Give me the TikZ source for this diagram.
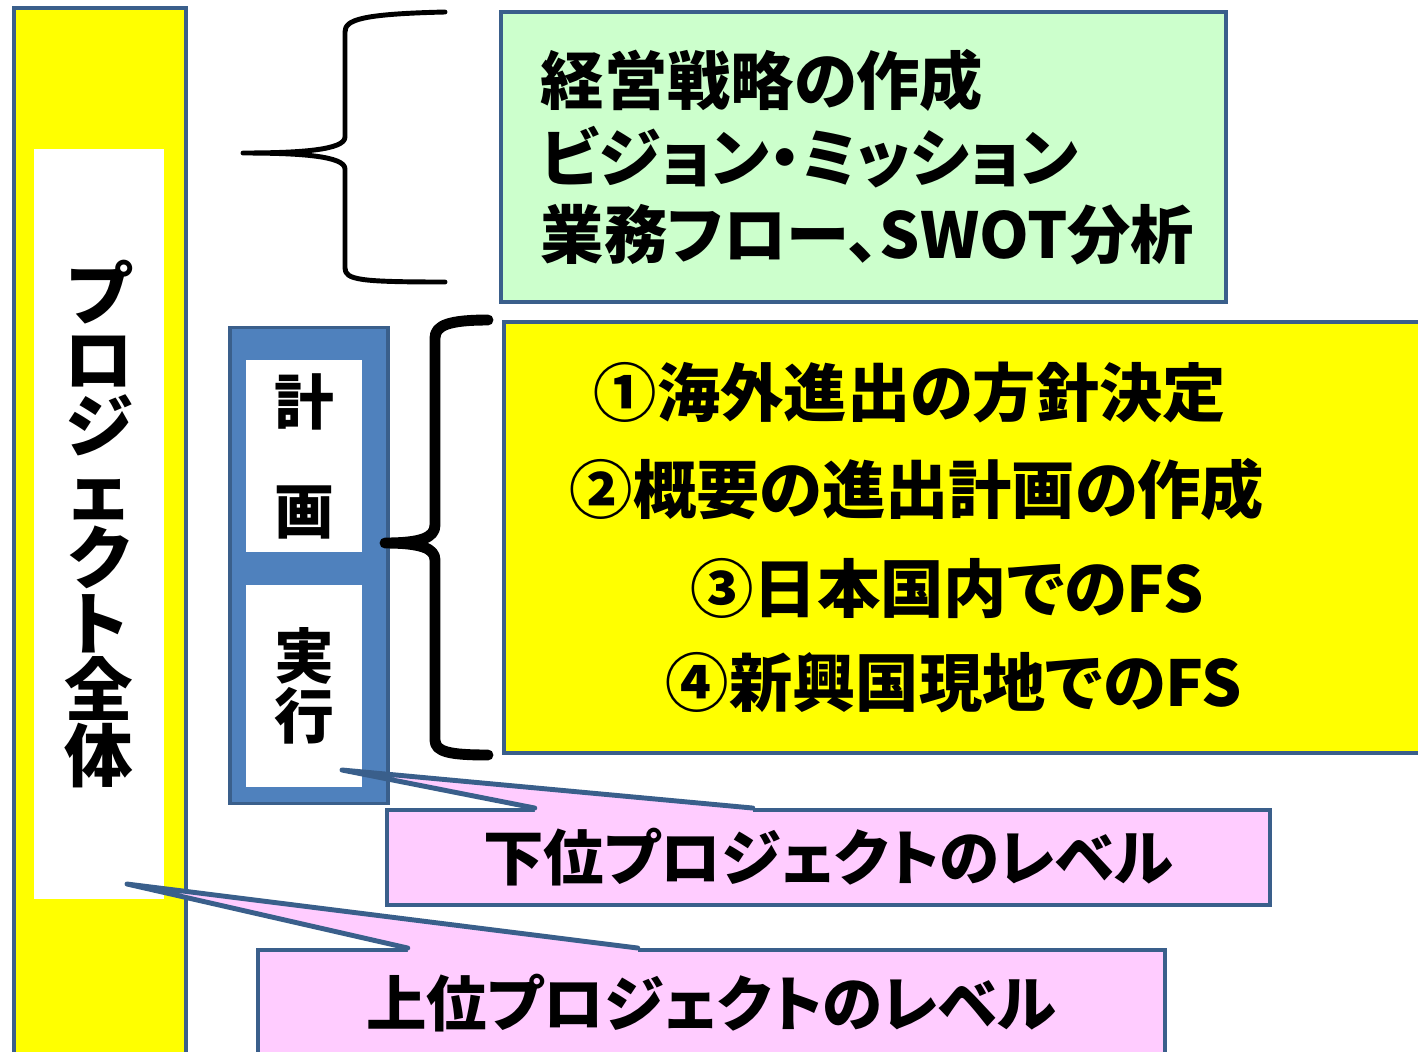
\documentclass[tikz,border=0pt]{standalone}
\usepackage{fontspec}
\setmainfont{Noto Sans CJK JP}[RawFeature=+palt]
\usetikzlibrary{calc}

\definecolor{framec}{HTML}{3A5F8B}
\definecolor{stagec}{HTML}{4F81BD}
\definecolor{greenc}{HTML}{CCFFCC}
\definecolor{pinkc}{HTML}{FFCCFF}
\definecolor{yellowc}{HTML}{FFFF00}

\begin{document}
\begin{tikzpicture}[x=0.01cm,y=-0.01cm,
    box/.style={draw=framec,line width=1.1pt,inner sep=0pt},
    inner/.style={fill=white,inner sep=0pt,align=center,font=\fontsize{17pt}{17pt}\selectfont\bfseries},
    callout/.style={box,fill=pinkc,font=\fontsize{17.2pt}{17pt}\selectfont\bfseries},
    pointer/.style={draw=framec,line width=1.4pt,line join=round,line cap=round},
    task/.style={font=\fontsize{18pt}{18pt}\selectfont\bfseries},
    brace/.style={draw,line cap=round,line join=round}]
    \useasboundingbox (0,0) rectangle (1418,1051);
    \clip (0,0) rectangle (1418,1051);

    \node[box,fill=yellowc,minimum width=1.72cm,minimum height=10.6cm] at (100,538) (whole) {};
    \node[inner,minimum width=1.30cm,minimum height=7.49cm,font=\fontsize{19.5pt}{18.8pt}\selectfont\bfseries] at (99,524) (wholetext) {プ\\ロ\\ジ\\ェ\\ク\\ト\\全\\体};

    % upper level callout
    \node[callout,minimum width=9.07cm,minimum height=1.06cm] at (711.5,1003) (upper) {上位プロジェクトのレベル};
    \coordinate (uptip) at (127,884);
    \coordinate (upl) at ($(upper.north west)+(152,0)$);
    \coordinate (upr) at ($(upper.north west)+(382,0)$);
    \fill[pinkc] (upl) -- (uptip) -- (upr) -- ($(upr)+(0,5)$) -- ($(upl)+(0,5)$) -- cycle;
    \draw[pointer] (upl) -- (uptip) -- (upr);

    % plan / execute
    \node[box,fill=stagec,line width=0.9pt,minimum width=1.58cm,minimum height=4.75cm] at (309,565.5) (stage) {};
    \node[inner,minimum width=1.16cm,minimum height=1.92cm] at (304,456) (plan) {計\\[14pt]画};
    \node[inner,minimum width=1.16cm,minimum height=2.02cm] at (304,686) (exec) {実\\行};

    % lower level callout
    \node[callout,minimum width=8.83cm,minimum height=0.95cm] at (828.5,857.5) (lower) {下位プロジェクトのレベル};
    \coordinate (lowtip) at (342,770);
    \coordinate (lowl) at ($(lower.north west)+(150,0)$);
    \coordinate (lowr) at ($(lower.north west)+(368,0)$);
    \fill[pinkc] (lowl) -- (lowtip) -- (lowr) -- ($(lowr)+(0,5)$) -- ($(lowl)+(0,5)$) -- cycle;
    \draw[pointer] (lowl) -- (lowtip) -- (lowr);

    % strategy
    \node[box,fill=greenc,minimum width=7.25cm,minimum height=2.9cm,text width=6.45cm,align=left,
        font=\fontsize{18pt}{21.9pt}\selectfont\bfseries] at (863.5,157) (strategy)
        {経営戦略の作成\\ビジョン・ミッション\\業務フロー、SWOT分析};

    % tasks
    \node[box,fill=yellowc,minimum width=9.5cm,minimum height=4.31cm,anchor=west] at (502,537.5) (tasks) {};
    \node[task] at (910,393) (task1) {①海外進出の方針決定};
    \node[task] at (917,489) (task2) {②概要の進出計画の作成};
    \node[task] at (947,588) (task3) {③日本国内でのFS};
    \node[task] at (954,683) (task4) {④新興国現地でのFS};

    % braces
    \coordinate (topbrace) at (243,153);
    \coordinate (planbrace) at (385,543);
    \draw[brace,line width=1.4pt] (445,12) .. controls (360,14) and (345,20) .. (345,32) -- (345,137)
        .. controls (345,150) and (300,153) .. (topbrace)
        .. controls (300,153) and (345,156) .. (345,169) -- (345,268)
        .. controls (345,280) and (360,282) .. (445,282);
    \draw[brace,line width=3.1pt] (488,320) .. controls (450,320) and (435,325) .. (435,338) -- (435,525)
        .. controls (435,538) and (420,543) .. (planbrace)
        .. controls (420,543) and (435,548) .. (435,560) -- (435,740)
        .. controls (435,752) and (450,755) .. (488,755);
\end{tikzpicture}
\end{document}
